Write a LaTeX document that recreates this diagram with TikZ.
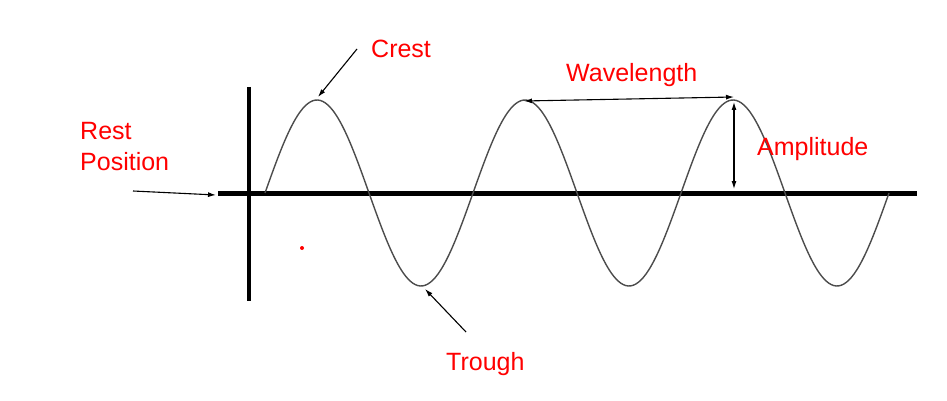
\documentclass[tikz,border=0pt]{standalone}
\usepackage{fontspec}
\setmainfont{Liberation Sans}
\usetikzlibrary{arrows.meta}
\tikzset{
  lbl/.style={text=red, font=\fontsize{25}{31}\selectfont, inner sep=0pt},
  ptr/.style={-{Latex[length=8pt,width=5pt]}, line width=1.1pt},
  span/.style={{Latex[length=8pt,width=5pt]}-{Latex[length=8pt,width=5pt]}, line width=1.1pt},
  wave/.style={line width=1.4pt, black!70},
}
\begin{document}
\begin{tikzpicture}[x=1pt,y=-1pt]
    \useasboundingbox (0,0) rectangle (947,401);
    % axes
    \draw[line width=5pt] (218,193) -- (917,193);
    \draw[line width=4pt] (249,87) -- (249,301);
    % the wave
    \draw[wave] plot[domain=265:889, samples=250, smooth] (\x, {193-93*sin((\x-265)/208*360)});
    % labels
    \node[lbl, anchor=base west] (crest) at (371,58) {Crest};
    \node[lbl, anchor=base west] (wavelength) at (566,82) {Wavelength};
    \node[lbl, anchor=base west] (amplitude) at (757,155) {Amplitude};
    \node[lbl, anchor=base west] (trough) at (446,370) {Trough};
    \node[lbl, anchor=north west, align=left] (rest) at (80,122) {Rest\\Position};
    % points on the wave
    \coordinate (crestfrom) at (357,49);
    \coordinate (crestpt) at (318,97);
    \coordinate (troughfrom) at (466,332);
    \coordinate (troughpt) at (425,289);
    \coordinate (restfrom) at (133,191);
    \coordinate (restpt) at (216,195);
    \coordinate (peakA) at (524,101);
    \coordinate (peakB) at (734,97);
    \coordinate (foot) at (734,189);
    \draw[ptr] (crestfrom) -- (crestpt);
    \draw[ptr] (troughfrom) -- (troughpt);
    \draw[ptr] (restfrom) -- (restpt);
    \draw[span] (peakA) -- (peakB);
    \draw[span] (peakB |- 0,102) -- (foot);
    \fill[red] (302,248) circle (2);
\end{tikzpicture}
\end{document}
